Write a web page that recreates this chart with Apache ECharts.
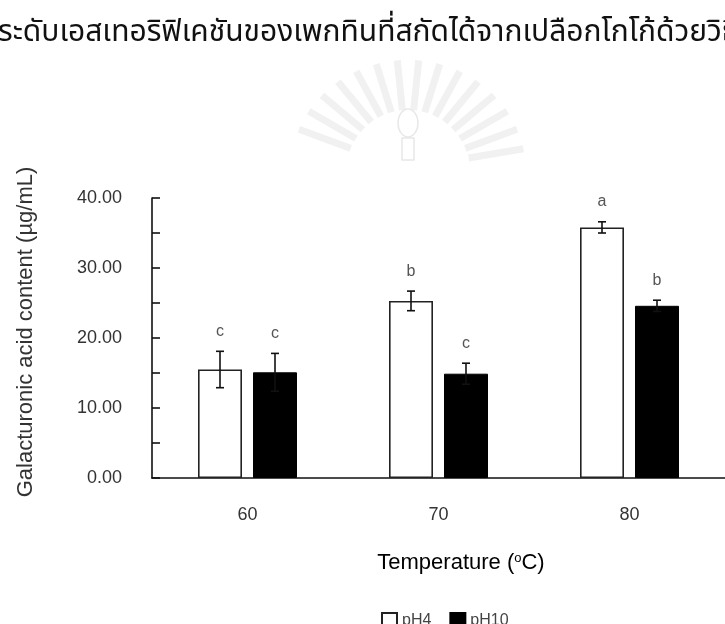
<!DOCTYPE html>
<html>
<head>
<meta charset="utf-8">
<script src="https://cdn.jsdelivr.net/npm/echarts@6/dist/echarts.min.js"></script>
<style>html,body{margin:0;padding:0;background:#fff}#c{width:725px;height:624px}</style>
</head>
<body>
<div id="c"></div>
<script>
var categories = ['60', '70', '80'];
var pH4 = [15.5, 25.3, 35.8];
var pH4Err = [2.6, 1.4, 0.8];
var pH10 = [15.1, 14.9, 24.6];
var pH10Err = [2.7, 1.5, 0.8];
var pH4Letters = ['c', 'b', 'a'];
var pH10Letters = ['c', 'c', 'b'];
var yTicks = [0, 10, 20, 30, 40];
var titleText = 'ระดับเอสเทอริฟิเคชันของเพกทินที่สกัดได้จากเปลือกโกโก้ด้วยวิธีท';

var BAR_W = 44, GAP = 11;
var FONT = "'Liberation Sans', Arial, Helvetica, sans-serif";

function errSeries(name, means, errs, letters, sign) {
  return {
    type: 'custom', name: name + ' err', silent: true, z: 5,
    data: means.map(function (m, i) { return [i, m, errs[i]]; }),
    encode: { x: 0, y: 1 },
    renderItem: function (params, api) {
      var i = api.value(0), m = api.value(1), e = api.value(2);
      var off = sign * (BAR_W + GAP) / 2;
      var top = api.coord([i, m + e]);
      var bot = api.coord([i, m - e]);
      var x = top[0] + off;
      var st = { stroke: '#111', lineWidth: 1.6 };
      return {
        type: 'group',
        children: [
          { type: 'line', shape: { x1: x, y1: top[1], x2: x, y2: bot[1] }, style: st },
          { type: 'line', shape: { x1: x - 4, y1: top[1], x2: x + 4, y2: top[1] }, style: st },
          { type: 'line', shape: { x1: x - 4, y1: bot[1], x2: x + 4, y2: bot[1] }, style: st },
          { type: 'text', x: x, y: top[1] - 20, style: { text: letters[params.dataIndex], fill: '#555', font: '16px ' + FONT, textAlign: 'center', textVerticalAlign: 'middle' } }
        ]
      };
    }
  };
}

// faint watermark rays
var wm = [];
var cx = 408, cy = 172;
for (var a = 12; a <= 168; a += 10.4) {
  var r = a * Math.PI / 180;
  var x1 = cx + Math.cos(r) * 62, y1 = cy - Math.sin(r) * 62;
  var x2 = cx + Math.cos(r) * 118, y2 = cy - Math.sin(r) * 112;
  wm.push({ type: 'line', silent: true, shape: { x1: x1, y1: Math.min(y1, 158), x2: x2, y2: y2 }, style: { stroke: '#f1f1f1', lineWidth: 7 } });
}
wm.push({ type: 'ellipse', silent: true, shape: { cx: 408, cy: 123, rx: 10, ry: 14 }, style: { fill: 'none', stroke: '#e8e8e8', lineWidth: 1.5 } });
wm.push({ type: 'rect', silent: true, shape: { x: 402, y: 138, width: 12, height: 22 }, style: { fill: 'none', stroke: '#e8e8e8', lineWidth: 1.5 } });

var chart = echarts.init(document.getElementById('c'));
chart.setOption({
  backgroundColor: '#fff',
  animation: false,
  graphic: wm.concat([
    { type: 'text', left: -2, top: 20, style: { text: titleText, fill: '#111', font: "30px 'Noto Sans Thai', 'Noto Sans', 'DejaVu Sans', sans-serif" } },
    { type: 'text', x: 26, y: 332, rotation: Math.PI / 2, style: { text: 'Galacturonic acid content (µg/mL)', fill: '#333', font: '22px ' + FONT, textAlign: 'center', textVerticalAlign: 'middle' } },
    { type: 'text', x: 461, y: 563, style: {
      text: '{n|Temperature (}{s|o}{n|C)}', textAlign: 'center', textVerticalAlign: 'middle',
      rich: { n: { fontSize: 22, fontFamily: FONT, color: '#333' }, s: { fontSize: 13, fontFamily: FONT, color: '#333', padding: [0, 0, 10, 0] } }
    } }
  ]),
  grid: { left: 152, top: 198, width: 582, height: 280, containLabel: false },
  legend: {
    left: 376, top: 607, itemWidth: 15, itemHeight: 15, itemGap: 18,
    textStyle: { fontSize: 16, color: '#444', fontFamily: FONT },
    data: [{ name: 'pH4', icon: 'rect' }, { name: 'pH10', icon: 'rect' }]
  },
  xAxis: {
    type: 'category', data: categories,
    axisLine: { lineStyle: { color: '#111', width: 1.6 } },
    axisTick: { show: false },
    axisLabel: { fontSize: 18, color: '#333', margin: 28, fontFamily: FONT },
    splitLine: { show: false }
  },
  yAxis: {
    type: 'value', min: 0, max: 40, interval: 5,
    axisLine: { show: true, lineStyle: { color: '#111', width: 1.6 } },
    axisTick: { show: true, inside: true, length: 8, lineStyle: { color: '#111', width: 1.6 } },
    axisLabel: {
      fontSize: 18, color: '#333', margin: 30, fontFamily: FONT,
      formatter: function (v) { return yTicks.indexOf(v) >= 0 ? v.toFixed(2) : ''; }
    },
    splitLine: { show: false }
  },
  series: [
    { type: 'bar', name: 'pH4', data: pH4, barWidth: BAR_W, barGap: (GAP / BAR_W * 100) + '%',
      itemStyle: { color: '#fff', borderColor: '#222', borderWidth: 1.6 } },
    { type: 'bar', name: 'pH10', data: pH10, barWidth: BAR_W,
      itemStyle: { color: '#000', borderColor: '#000', borderWidth: 1 } },
    errSeries('pH4', pH4, pH4Err, pH4Letters, -1),
    errSeries('pH10', pH10, pH10Err, pH10Letters, 1)
  ]
});
</script>
</body>
</html>
